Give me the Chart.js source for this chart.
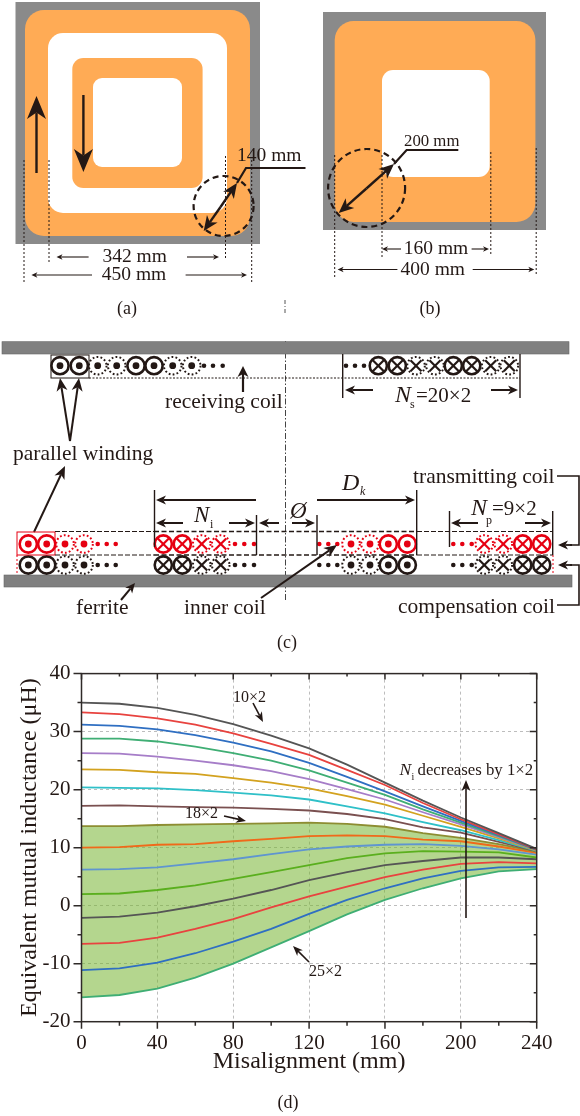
<!DOCTYPE html>
<html>
<head>
<meta charset="utf-8">
<title>Equivalent mutual inductance</title>
<script src="https://cdn.jsdelivr.net/npm/chart.js@4"></script>
<style>
  html, body { margin: 0; padding: 0; background: #fff; }
  #page { position: relative; width: 580px; height: 1116px; overflow: hidden; filter: blur(0.35px); }
  #chart-wrap { position: absolute; left: 0; top: 650px; width: 580px; height: 466px; }
  #sketch { position: absolute; left: 0; top: 0; }
  svg text { font-family: "Liberation Serif", serif; fill: #231815; }
</style>
</head>
<body>
<div id="page">
  <div id="chart-wrap"><canvas id="chart-d"></canvas></div>
  <svg id="sketch" width="580" height="1116" viewBox="0 0 580 1116"></svg>
</div>
<script>
// misalignment sweep, one curve per inner coil turn count
const misalign = [0, 20, 40, 60, 80, 100, 120, 140, 160, 180, 200, 220, 240];
const turns10 = [35.0, 34.8, 34.1, 32.9, 31.3, 29.3, 27.1, 24.3, 21.2, 18.1, 15.2, 12.5, 9.8];
const turns11 = [33.3, 33.0, 32.3, 31.2, 29.7, 27.9, 26.0, 23.4, 20.8, 17.7, 14.9, 12.3, 9.7];
const turns12 = [31.2, 31.0, 30.4, 29.4, 28.1, 26.6, 24.6, 22.2, 19.7, 17.1, 14.6, 12.15, 9.65];
const turns13 = [28.8, 28.8, 28.3, 27.4, 26.3, 25.0, 23.3, 21.2, 19.1, 16.6, 14.3, 12.0, 9.6];
const turns14 = [26.3, 26.2, 25.7, 25.0, 24.2, 23.2, 21.8, 20.1, 18.3, 16.1, 14.0, 11.8, 9.55];
const turns15 = [23.5, 23.4, 23.0, 22.7, 22.0, 21.2, 20.2, 18.9, 17.4, 15.5, 13.6, 11.6, 9.5];
const turns16 = [20.4, 20.3, 20.2, 19.9, 19.5, 19.0, 18.3, 17.1, 15.9, 14.4, 13.0, 11.3, 9.45];
const turns17 = [17.2, 17.3, 17.1, 17.0, 16.9, 16.7, 16.4, 15.8, 14.9, 13.5, 12.6, 11.0, 9.4];
const turns18 = [13.7, 13.7, 13.9, 14.0, 14.1, 14.2, 14.3, 14.1, 13.6, 12.5, 11.7, 10.6, 9.3];
const turns19 = [10.0, 10.1, 10.5, 10.6, 11.1, 11.5, 12.0, 12.1, 12.0, 11.4, 11.1, 10.2, 9.1];
const turns20 = [6.2, 6.3, 6.6, 7.3, 8.0, 8.9, 9.7, 10.2, 10.5, 10.6, 10.3, 9.7, 8.8];
const turns21 = [2.0, 2.1, 2.7, 3.5, 4.6, 5.8, 7.0, 8.2, 9.0, 9.4, 9.3, 9.2, 8.3];
const turns22 = [-2.1, -1.9, -1.2, -0.1, 1.2, 2.7, 4.4, 5.8, 7.0, 7.7, 8.3, 8.3, 8.0];
const turns23 = [-6.6, -6.4, -5.5, -4.0, -2.3, -0.3, 1.6, 3.3, 4.9, 6.2, 7.2, 7.5, 7.3];
const turns24 = [-11.1, -10.8, -9.8, -8.2, -6.2, -4.0, -1.4, 1.0, 3.0, 4.7, 6.0, 6.6, 6.7];
const turns25 = [-15.8, -15.4, -14.3, -12.4, -10.0, -7.2, -4.4, -1.5, 1.0, 3.0, 4.7, 5.9, 6.3];
const curves = [turns10, turns11, turns12, turns13, turns14, turns15, turns16, turns17,
  turns18, turns19, turns20, turns21, turns22, turns23, turns24, turns25];
const curveNames = ['10×2', '11×2', '12×2', '13×2', '14×2', '15×2', '16×2', '17×2',
  '18×2', '19×2', '20×2', '21×2', '22×2', '23×2', '24×2', '25×2'];
const curveColors = ['#555555', '#e8433f', '#2f6fc2', '#3fae74', '#a67dc8', '#d3a21f', '#2fc0c8', '#7a5050',
  '#8d8d32', '#f0691a', '#5f95d0', '#5aaf1e', '#555555', '#e8433f', '#2f6fc2', '#3fae74'];

const serif = '"Liberation Serif", serif';
const ink = '#231815';
const coilRed = '#e60012';

Chart.defaults.font.family = serif;

// frame and tick marks, outward on left/bottom and inward on top/right
const frameTicks = {
  id: 'frameTicks',
  afterDatasetsDraw(chart) {
    const { ctx, chartArea: a, scales: { x, y } } = chart;
    ctx.save();
    ctx.strokeStyle = '#2f2a28';
    ctx.lineWidth = 1.5;
    ctx.strokeRect(a.left, a.top, a.right - a.left, a.bottom - a.top);
    ctx.beginPath();
    x.ticks.forEach(t => {
      const px = x.getPixelForValue(t.value);
      const big = t.value % 40 === 0;
      ctx.moveTo(px, a.bottom); ctx.lineTo(px, a.bottom + (big ? 7 : 4));
      ctx.moveTo(px, a.top); ctx.lineTo(px, a.top + (big ? 6 : 3));
    });
    y.ticks.forEach(t => {
      const py = y.getPixelForValue(t.value);
      const big = t.value % 10 === 0;
      ctx.moveTo(a.left, py); ctx.lineTo(a.left - (big ? 8 : 4), py);
      ctx.moveTo(a.right, py); ctx.lineTo(a.right - (big ? 7 : 3), py);
    });
    ctx.stroke();
    ctx.restore();
  }
};

const datasets = curves.map((values, i) => ({
  label: curveNames[i],
  data: values,
  borderColor: curveColors[i],
  borderWidth: 1.8,
  pointRadius: 0,
  tension: 0,
  fill: i === 8 ? { target: 15 } : false,
  backgroundColor: 'rgba(118, 180, 50, 0.55)'
}));

new Chart(document.getElementById('chart-d'), {
  type: 'line',
  data: { labels: misalign, datasets: datasets },
  plugins: [frameTicks],
  options: {
    responsive: true,
    maintainAspectRatio: false,
    animation: false,
    layout: { padding: { left: 0, top: 20, right: 43.3, bottom: 0 } },
    plugins: {
      legend: { display: false },
      tooltip: { enabled: false },
      filler: { drawTime: 'beforeDatasetsDraw' }
    },
    scales: {
      x: {
        type: 'linear',
        min: 0,
        max: 240,
        afterFit(s) { s.height = 94.3; },
        grid: {
          drawTicks: false,
          color: c => (c.tick && c.tick.value % 40 === 0 ? '#bdbdbd' : 'transparent'),
          lineWidth: 1
        },
        border: { display: false, dash: [3, 3] },
        ticks: {
          stepSize: 20,
          autoSkip: false,
          maxRotation: 0,
          padding: 9,
          color: ink,
          font: { size: 21 },
          callback: v => (v % 40 === 0 ? String(v) : '')
        },
        title: {
          display: true,
          text: 'Misalignment (mm)',
          color: ink,
          font: { size: 24 },
          padding: { top: 0, bottom: 40 }
        }
      },
      y: {
        min: -20,
        max: 40,
        afterFit(s) { s.width = 81.5; },
        grid: {
          drawTicks: false,
          color: c => (c.tick && c.tick.value % 10 === 0 ? '#bdbdbd' : 'transparent'),
          lineWidth: 1
        },
        border: { display: false, dash: [3, 3] },
        ticks: {
          stepSize: 5,
          autoSkip: false,
          padding: 11,
          color: ink,
          font: { size: 21 },
          callback: v => (v % 10 === 0 ? String(v) : '')
        },
        title: {
          display: true,
          text: 'Equivalent mutual inductance (μH)',
          color: ink,
          font: { size: 24 },
          padding: { top: 15, bottom: 0 }
        }
      }
    }
  }
});

// ---- sketches (a), (b), (c) and chart notes as svg ----
let svg = '';

function rrect(x1, y1, x2, y2, r, fill, extra) {
  svg += `<rect x="${x1}" y="${y1}" width="${x2 - x1}" height="${y2 - y1}" rx="${r}" fill="${fill}" ${extra || ''}/>`;
}
function line(x1, y1, x2, y2, w, dash, color) {
  svg += `<line x1="${x1}" y1="${y1}" x2="${x2}" y2="${y2}" stroke="${color || ink}" stroke-width="${w}"` +
    (dash ? ` stroke-dasharray="${dash}"` : '') + '/>';
}
function poly(points, w, color) {
  svg += `<polyline points="${points}" fill="none" stroke="${color || ink}" stroke-width="${w}"/>`;
}
function arrow(x1, y1, x2, y2, w, len, half) {
  // shaft stops inside the head, the head has a notched back
  const d = Math.hypot(x2 - x1, y2 - y1), ux = (x2 - x1) / d, uy = (y2 - y1) / d;
  const bx = x2 - ux * len, by = y2 - uy * len;
  const nx = x2 - ux * len * 0.72, ny = y2 - uy * len * 0.72;
  line(x1, y1, nx, ny, w);
  svg += `<polygon fill="${ink}" points="${x2},${y2} ${bx - uy * half},${by + ux * half} ${nx},${ny} ${bx + uy * half},${by - ux * half}"/>`;
}
function text(x, y, str, size, anchor, style) {
  svg += `<text x="${x}" y="${y}" font-size="${size}" text-anchor="${anchor || 'start'}"` +
    (style ? ` font-style="${style}"` : '') + `>${str}</text>`;
}
function circle(cx, cy, rx, ry, dash, w) {
  svg += `<ellipse cx="${cx}" cy="${cy}" rx="${rx}" ry="${ry}" fill="none" stroke="${ink}" stroke-width="${w}" stroke-dasharray="${dash}"/>`;
}

// (a)
rrect(15.5, 2, 260, 244, 0, '#8a8a8a');
rrect(25, 10, 250, 236, 19, '#ffab55');
rrect(48, 33, 227, 213, 15, '#fff');
rrect(72.3, 58, 202.6, 188, 11, '#ffab55');
rrect(93, 78, 182, 167, 9, '#fff');
arrow(36.5, 173, 36.5, 96, 2.4, 23, 9.5);
arrow(83.4, 95, 83.4, 172, 2.4, 23, 9.5);
circle(223.6, 206, 30, 30, '6 4', 2.2);
arrow(220.5, 207, 203.7, 231, 2.4, 15, 6.5);
arrow(220.5, 207, 237, 183, 2.4, 15, 6.5);
poly('237,183 246,168 305.5,168', 2.2);
text(237, 161, '140 mm', 19.5);
[[24, 160, 283], [49, 160, 263], [225.5, 156, 260], [251.7, 160, 283]].forEach(d => line(d[0], d[1], d[0], d[2], 1, '2 2'));
text(134.7, 262, '342 mm', 19.5, 'middle');
text(134, 280, '450 mm', 19.5, 'middle');
arrow(88.6, 257, 56.5, 257, 1.1, 6, 2.8);
arrow(187, 257, 219, 257, 1.1, 6, 2.8);
arrow(92, 275, 31.4, 275, 1.1, 6, 2.8);
arrow(185.6, 275, 247, 275, 1.1, 6, 2.8);
text(127, 314, '(a)', 18, 'middle');

// (b)
rrect(323, 12, 546, 230, 0, '#8a8a8a');
rrect(334.7, 21, 535.4, 222, 19, '#ffab55');
rrect(382, 70, 489.7, 177, 11, '#fff');
circle(366.6, 188, 38.5, 39, '6 4', 2.2);
arrow(366.4, 188.5, 338.7, 213, 2.4, 15, 6.5);
arrow(366.4, 188.5, 394, 164, 2.4, 15, 6.5);
poly('394,164 406.6,150 458.3,150', 2.2);
text(404, 146, '200 mm', 16.8);
[[334.7, 155, 278], [382, 155, 257], [490.8, 152, 255], [536.2, 148, 276]].forEach(d => line(d[0], d[1], d[0], d[2], 1, '2 2'));
text(436, 254, '160 mm', 19.5, 'middle');
text(432.8, 275, '400 mm', 19.5, 'middle');
arrow(401, 249, 382, 249, 1.1, 6, 2.8);
arrow(471.6, 249, 489, 249, 1.1, 6, 2.8);
arrow(397.4, 269.5, 337.6, 269.5, 1.1, 6, 2.8);
arrow(472.7, 269.5, 534.3, 269.5, 1.1, 6, 2.8);
text(430, 314, '(b)', 18, 'middle');

// centre line above and through (c)
line(285, 300, 285, 314, 1, '4 2 1 2', '#555');
line(285.5, 341, 285.5, 602, 1, '6 2 1.5 2', '#444');

// (c) ferrite bars
rrect(2, 341.7, 569, 354, 0, '#808080', 'stroke="#666" stroke-width="0.6"');
rrect(4, 575, 572, 587, 0, '#808080', 'stroke="#666" stroke-width="0.6"');

function coil(kind, cx, cy, color) {
  const c = color;
  if (kind === 'p') {
    svg += `<circle cx="${cx}" cy="${cy}" r="2.3" fill="${c}"/>`;
    return;
  }
  const dotted = kind === 'dd' || kind === 'dx';
  const hasDot = kind === 'o' || kind === 'dd';
  svg += `<circle cx="${cx}" cy="${cy}" r="${dotted ? 8.8 : 8.6}" fill="none" stroke="${c}" stroke-width="${dotted ? 2 : 2.6}"` +
    (dotted ? ' stroke-dasharray="1.8 2.2"' : '') + '/>';
  if (hasDot) {
    svg += `<circle cx="${cx}" cy="${cy}" r="3.4" fill="${c}"/>`;
  } else {
    const k = dotted ? 5.5 : 6;
    line(cx - k, cy - k, cx + k, cy + k, 2.2, '', c);
    line(cx - k, cy + k, cx + k, cy - k, 2.2, '', c);
  }
}
function coilRow(kinds, xs, cy, color) {
  xs.forEach((x, i) => coil(kinds[i], x, cy, color));
}

const outKinds = ['o', 'o', 'dd', 'dd', 'p', 'p', 'p'];
const inKinds = ['x', 'x', 'dx', 'dx', 'p', 'p', 'p'];
const rowLeft = [28.3, 46.7, 65, 84, 97.7, 106.7, 115.7];
const rowInnerL = [163.3, 182.3, 201.7, 220.7, 235, 244.3, 254];
const rowInnerR = [407.3, 388.3, 370, 351, 337.3, 328.3, 319.3];
const rowRight = [541.7, 522.7, 503.3, 484.3, 471.7, 462.3, 453.3];
[[544, coilRed], [565, ink]].forEach(r => {
  coilRow(outKinds, rowLeft, r[0], r[1]);
  coilRow(inKinds, rowInnerL, r[0], r[1]);
  coilRow(outKinds, rowInnerR, r[0], r[1]);
  coilRow(inKinds, rowRight, r[0], r[1]);
});

// receiving coil
const rxKindsL = ['o', 'o', 'dd', 'dd', 'o', 'o', 'dd', 'dd', 'p', 'p', 'p'];
const rxLeft = [60, 79.3, 97.7, 116.7, 136, 154, 172.7, 191.7, 204, 213, 222.7];
const rxKindsR = ['p', 'p', 'p', 'x', 'x', 'dx', 'dx', 'x', 'x', 'dx', 'dx'];
const rxRight = [346, 355, 364, 378.3, 397.3, 416, 435, 453.3, 471.7, 490.7, 509.3];
coilRow(rxKindsL, rxLeft, 365.7, ink);
coilRow(rxKindsR, rxRight, 365.7, ink);
svg += `<rect x="51" y="355" width="38" height="23" fill="none" stroke="${ink}" stroke-width="1"/>`;
line(89, 378, 520, 378, 1, '2 1.5');
line(342.7, 354, 342.7, 398, 1.4);
line(520, 354, 520, 398, 1.4);
arrow(373, 390, 345, 390, 2, 10, 4.5);
arrow(491, 390, 518, 390, 2, 10, 4.5);
text(395, 402, 'N', 24, 'start', 'italic');
text(410, 408, 's', 12);
text(416, 402, '=20×2', 21);
arrow(243, 392, 243, 366, 2.2, 11, 5.5);
text(165, 408, 'receiving coil', 21.5);
text(13, 460, 'parallel winding', 21.5);
arrow(70, 441, 60, 378, 2, 13, 5.5);
arrow(70, 441, 79, 378, 2, 13, 5.5);
arrow(34, 532, 65, 466, 2, 13, 5.5);

// transmit row guides
svg += `<rect x="17" y="532" width="38" height="23" fill="none" stroke="${coilRed}" stroke-width="1"/>`;
line(55, 531.5, 154, 531.5, 1, '5 2');
line(55, 555, 154, 555, 1, '5 2');
line(154, 531.5, 417, 531.5, 1.7, '5 2.5');
line(154, 555, 417, 555, 1.7, '5 2.5');
line(417, 531.5, 553, 531.5, 1, '5 2');
line(417, 555, 553, 555, 1, '5 2');
line(17, 555, 17, 575, 1, '2 2', coilRed);
line(553, 555, 553, 575, 1, '2 2', coilRed);
line(154.5, 490, 154.5, 547, 1.4);
line(256.5, 515, 256.5, 555, 1.4);
line(317, 515, 317, 555, 1.4);
line(416.7, 490, 416.7, 555, 1.4);
line(449.5, 511, 449.5, 547, 1.4);
line(552.7, 511, 552.7, 555, 1.4);
arrow(256, 500, 156, 500, 2, 10, 4.5);
arrow(183, 523, 156, 523, 2, 10, 4.5);
arrow(229, 523, 255, 523, 2, 10, 4.5);
arrow(279, 523, 259, 523, 2, 10, 4.5);
arrow(292, 523, 315, 523, 2, 10, 4.5);
arrow(317, 500, 415, 500, 2, 10, 4.5);
arrow(478, 523, 451, 523, 2, 10, 4.5);
arrow(525, 523, 551, 523, 2, 10, 4.5);
text(194, 521.7, 'N', 23, 'start', 'italic');
text(210, 528, 'i', 12);
text(290, 518, 'Ø', 23, 'start', 'italic');
text(342, 490, 'D', 24, 'start', 'italic');
text(360, 495, 'k', 12, 'start', 'italic');
text(471, 515, 'N', 24, 'start', 'italic');
text(486, 524, 'p', 12);
text(492, 515, '=9×2', 21);
text(413, 482.7, 'transmitting coil', 21.5);
text(398, 612.7, 'compensation coil', 21.5);
poly('557,476 579,476 579,545 570,545', 1.6);
poly('557,605 579,605 579,565 570,565', 1.6);
arrow(572, 545, 558, 545, 1.8, 10, 4.5);
arrow(572, 565, 558, 565, 1.8, 10, 4.5);
text(76, 614, 'ferrite', 21.5);
text(184, 614, 'inner coil', 21.5);
arrow(121, 600, 135, 583, 2, 10, 4.5);
arrow(261, 598, 337, 545, 2, 13, 5.5);
text(287, 648, '(c)', 18, 'middle');

// notes on the chart
text(233, 702, '10×2', 16);
arrow(253, 703, 263, 722, 1.6, 10, 4);
text(185, 818, '18×2', 16);
arrow(224, 816, 246, 821, 1.6, 10, 4);
text(309, 975.5, '25×2', 16);
arrow(309, 962, 293, 946, 1.6, 10, 4);
arrow(466, 918, 466, 780, 1.6, 11, 4.5);
text(399.5, 775, 'N', 17.5, 'start', 'italic');
text(411.5, 780, 'i', 10);
text(417.5, 775, 'decreases by 1×2', 16.8);
text(288, 1108, '(d)', 18, 'middle');

document.getElementById('sketch').innerHTML = svg;
</script>
</body>
</html>
